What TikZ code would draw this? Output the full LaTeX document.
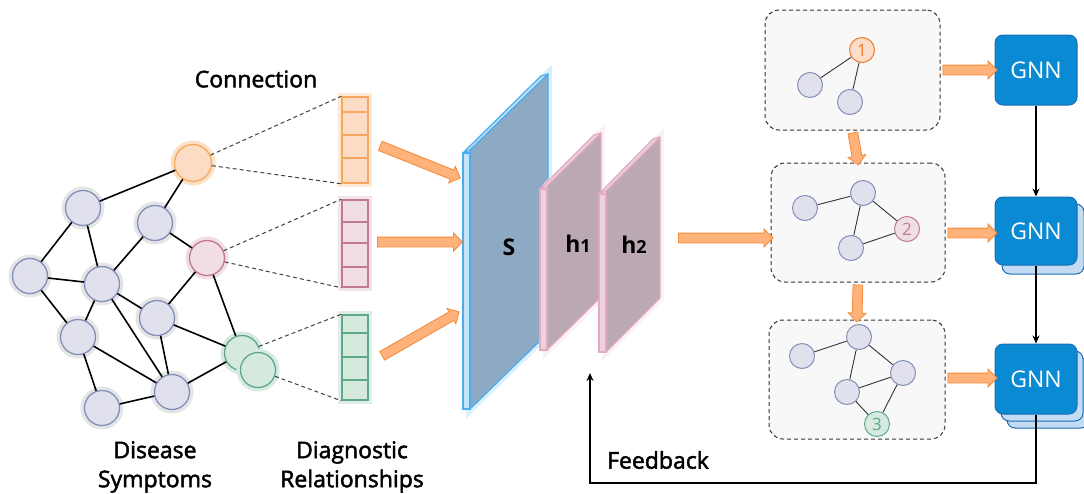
\documentclass[tikz,border=0pt]{standalone}
\usepackage{fontspec}
\setmainfont{Open Sans}
\newfontfamily\lblfont{Open Sans}[UprightFeatures={FakeBold=2}]
\usetikzlibrary{positioning,calc,arrows.meta,shapes.arrows}

\definecolor{nodeF}{HTML}{E1E1EE}
\definecolor{nodeB}{HTML}{8290B8}
\definecolor{orgF}{HTML}{FDDCC6}
\definecolor{orgB}{HTML}{F7A85E}
\definecolor{orgT}{HTML}{F07A2A}
\definecolor{pnkF}{HTML}{F0DDE5}
\definecolor{pnkB}{HTML}{C07A94}
\definecolor{grnF}{HTML}{D5E9DD}
\definecolor{grnB}{HTML}{5FA98A}
\definecolor{arrF}{HTML}{FFB27A}
\definecolor{arrB}{HTML}{F28A3A}
\definecolor{slabS}{HTML}{8DA9C4}
\definecolor{slabSB}{HTML}{4AAEEE}
\definecolor{slabSL}{HTML}{C4E2F8}
\definecolor{slabH}{HTML}{BAA8B2}
\definecolor{slabHB}{HTML}{E3A9C3}
\definecolor{slabHL}{HTML}{EBD3DE}
\definecolor{gnnF}{HTML}{0A8AD2}
\definecolor{gnnB}{HTML}{1B6DB4}
\definecolor{gnnS}{HTML}{C3DCF3}
\definecolor{frameF}{HTML}{F8F8F8}

\tikzset{
  halo/.style={preaction={draw=#1, line width=8pt}},
  vtx/.style={circle, line width=1.3pt, minimum size=35pt, inner sep=0pt},
  gvtx/.style={vtx, draw=nodeB, fill=nodeF, halo=black!10},
  ovtx/.style={vtx, draw=orgB, fill=orgF, minimum size=37pt, halo=orgB!35},
  pvtx/.style={vtx, draw=pnkB, fill=pnkF, halo=pnkB!25},
  nvtx/.style={vtx, draw=grnB, fill=grnF, halo=grnB!25},
  svtx/.style={circle, draw=nodeB, fill=nodeF, line width=1pt, minimum size=25pt, inner sep=0pt},
  numvtx/.style={svtx, draw=#1, fill=#1!25, text=#1, font=\fontsize{17}{17}\selectfont},
  link/.style={line width=1.6pt, black},
  slink/.style={line width=0.9pt, black!80},
  conn/.style={dash pattern=on 4pt off 3pt, line width=1pt, black!75},
  vecbox/.style={draw=#1, line width=1.5pt, minimum width=26pt, inner sep=0pt},
  frame/.style={draw=black!80, fill=frameF, dash pattern=on 4pt off 3pt, line width=1pt,
    rounded corners=14pt, minimum width=175pt, minimum height=120pt},
  gnn/.style={draw=gnnB, fill=gnnF, rounded corners=8pt, line width=1pt,
    minimum width=82pt, minimum height=70pt, text=white},
  gnnback/.style={gnn, fill=gnnS},
  fatarr/.style={single arrow, draw=arrB, fill=arrF, line width=0.8pt,
    single arrow head extend=4pt, single arrow head indent=0pt,
    inner xsep=0pt, inner ysep=4.5pt},
  back/.style={-{Stealth[length=8pt,width=7pt]}, line width=1.4pt, black},
  lbl/.style={font=\lblfont\fontsize{23}{29}\selectfont},
  slabtxt/.style={font=\bfseries\fontsize{23}{29}\selectfont}
}

\newcommand\fatarrow[2]{%
  \path let \p1=($(#2)-(#1)$), \n1={atan2(\y1,\x1)}, \n2={veclen(\x1,\y1)} in
    node[fatarr, minimum height=\n2, rotate=\n1] at ($(#1)!0.5!(#2)$) {};}

\begin{document}
\begin{tikzpicture}[x=1pt,y=-1pt,font=\fontsize{23}{29}\selectfont]
  \useasboundingbox (0,0) rectangle (1084,493);

  % symptom graph
  \node[ovtx] (o) at (193,163) {};
  \node[gvtx] (a) at (83,208) {};
  \node[gvtx] (b) at (155,223) {};
  \node[pvtx] (p) at (207,258) {};
  \node[gvtx] (c) at (30,276) {};
  \node[gvtx] (d) at (102,284) {};
  \node[gvtx] (e) at (157,318) {};
  \node[gvtx] (f) at (78,337) {};
  \node[gvtx] (g) at (172,392) {};
  \node[gvtx] (h) at (102,408) {};

  \draw[link] (a) -- (o) (b) -- (o) (a) -- (c) (a) -- (d) (b) -- (d) (b) -- (p)
    (c) -- (d) (c) -- (f) (d) -- (f) (d) -- (e) (d) -- (g) (e) -- (p)
    (e) -- (g) (f) -- (g) (f) -- (h) (h) -- (g);
  \node[nvtx] (n1) at (242,353) {};
  \draw[link] (e) -- (n1) (p) -- (n1) (g) -- (n1);
  \node[nvtx] (n2) at (258,370) {};

  \node[lbl] at (256,79) {Connection};
  \node[lbl, align=center] at (155,467) {Disease\\Symptoms};
  \node[lbl, align=center] at (352,467) {Diagnostic\\Relationships};

  % feature vectors
  \node[vecbox=orgB, fill=orgF, minimum height=86pt, halo=orgB!25] (vo) at (355,140) {};
  \node[vecbox=pnkB, fill=pnkF, minimum height=87pt, halo=pnkB!20] (vp) at (355,243.5) {};
  \node[vecbox=grnB, fill=grnF, minimum height=85pt, halo=grnB!20] (vg) at (355,357.5) {};
  \foreach \yy in {112,135,158} \draw[orgB, line width=1.5pt] (vo.west |- 0,\yy) -- (vo.east |- 0,\yy);
  \foreach \yy in {222,243,267} \draw[pnkB, line width=1.5pt] (vp.west |- 0,\yy) -- (vp.east |- 0,\yy);
  \foreach \yy in {333,357,380} \draw[grnB, line width=1.5pt] (vg.west |- 0,\yy) -- (vg.east |- 0,\yy);

  \draw[conn] (o) -- (vo.north west) (o) -- (vo.south west);
  \draw[conn] (p) -- (vp.north west) (p) -- (vp.south west);
  \draw[conn] (n1) -- (vg.north west) (n2) -- (vg.south west);

  % slabs
  \draw[slabSB, line width=1.2pt, fill=slabS, line join=round, halo=slabSB!20]
    (470,150) -- (548,74) -- (548,333) -- (470,409) -- cycle;
  \draw[slabSB, line width=1.2pt, fill=slabSL, line join=round]
    (463,153) -- (541,76) -- (548,74) -- (470,150) -- cycle;
  \draw[slabSB, line width=1.2pt, fill=slabSL] (463,153) rectangle (470,409);
  \node[slabtxt] (s) at (509,247) {S};

  \draw[slabHB, line width=1.2pt, fill=slabH, line join=round, halo=slabHB!15]
    (547,186) -- (601,133) -- (601,297) -- (547,350) -- cycle;
  \draw[slabHB, line width=1.2pt, fill=slabHL, line join=round]
    (540,189) -- (594,135) -- (601,133) -- (547,186) -- cycle;
  \draw[slabHB, line width=1.2pt, fill=slabHL] (540,189) rectangle (547,350);
  \node[slabtxt] (h1) at (578,244) {h{\fontsize{18}{18}\selectfont 1}};

  \draw[slabHB, line width=1.2pt, fill=slabH, line join=round, halo=slabHB!15]
    (606,191) -- (660,137) -- (660,298) -- (606,352) -- cycle;
  \draw[slabHB, line width=1.2pt, fill=slabHL, line join=round]
    (599,194) -- (653,139) -- (660,137) -- (606,191) -- cycle;
  \draw[slabHB, line width=1.2pt, fill=slabHL] (599,194) rectangle (606,352);
  \node[slabtxt] (h2) at (634,245) {h{\fontsize{18}{18}\selectfont 2}};

  \coordinate (a1s) at (378,145);  \coordinate (a1e) at (458,177);
  \coordinate (a2s) at (375,242);  \coordinate (a2e) at (460,242);
  \coordinate (a3s) at (380,357);  \coordinate (a3e) at (457,313);
  \fatarrow{a1s}{a1e}
  \fatarrow{a2s}{a2e}
  \fatarrow{a3s}{a3e}

  % subgraph frames
  \node[frame] (b1) at (852.5,70) {};
  \node[frame, minimum width=174pt, minimum height=119pt] (b2) at (858,222.5) {};
  \node[frame, minimum width=176pt, minimum height=119pt] (b3) at (857,379.5) {};

  \coordinate (out) at (676,238);  \coordinate (in2) at (b2.west |- 0,238);
  \fatarrow{out}{in2}
  \fatarrow{b1.south}{b2.north}
  \fatarrow{b2.south}{b3.north}

  \node[numvtx=orgT] (k1) at (862,50) {1};
  \node[svtx] (k2) at (810,85) {};
  \node[svtx] (k3) at (850,102) {};
  \draw[slink] (k2) -- (k1) (k3) -- (k1);

  \node[svtx] (m1) at (805,208) {};
  \node[svtx] (m2) at (863,193) {};
  \node[numvtx=pnkB] (m3) at (907,229) {2};
  \node[svtx] (m4) at (851,248) {};
  \draw[slink] (m1) -- (m2) (m2) -- (m3) (m2) -- (m4) (m4) -- (m3);

  \node[svtx] (r1) at (802,356) {};
  \node[svtx] (r2) at (859,337) {};
  \node[svtx] (r3) at (903,373) {};
  \node[svtx] (r4) at (847,392) {};
  \node[numvtx=grnB] (r5) at (877,424) {3};
  \draw[slink] (r1) -- (r2) (r2) -- (r4) (r2) -- (r3) (r4) -- (r3) (r4) -- (r5) (r3) -- (r5);

  % GNN blocks
  \node[gnn] (g1) at (1036,70) {GNN};
  \node[gnnback] (g2b) at (1043,239) {};
  \node[gnn, minimum height=68pt] (g2) at (1036,231) {GNN};
  \node[gnnback] (g3c) at (1048,393) {};
  \node[gnnback] (g3b) at (1042,386) {};
  \node[gnn] (g3) at (1036,379) {GNN};

  \fatarrow{b1.east}{g1.west}
  \coordinate (t2) at (b2.east |- 0,233);  \coordinate (u2) at (g2.west |- 0,233);
  \fatarrow{t2}{u2}
  \coordinate (t3) at (b3.east |- 0,378);  \coordinate (u3) at (g3.west |- 0,378);
  \fatarrow{t3}{u3}

  \draw[back] (g1) -- (g2);
  \draw[back] (g2) -- (g3);
  \coordinate (fb) at (590,373);
  \draw[back] (g3.south) -- (g3.south |- 0,483) -| (fb);
  \node[lbl] (fbtxt) at (658,460) {Feedback};
\end{tikzpicture}
\end{document}
